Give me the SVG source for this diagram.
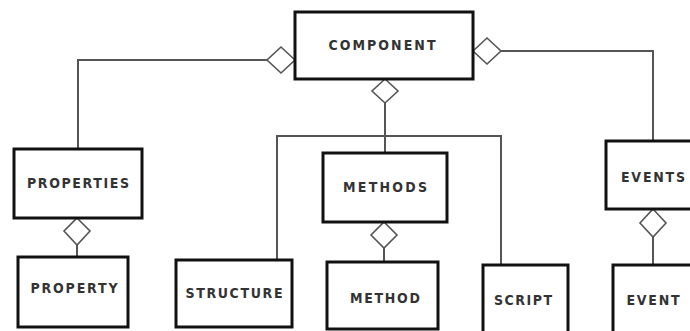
<svg xmlns="http://www.w3.org/2000/svg" width="690" height="331" viewBox="0 0 690 331">
  <style>
    .box { fill: #ffffff; stroke: #111111; stroke-width: 3; }
    .lbl { font-family: "DejaVu Sans Condensed", "DejaVu Sans", "Liberation Sans", sans-serif; font-stretch: condensed; font-weight: bold; font-size: 14px; fill: #333333; text-anchor: middle; dominant-baseline: central; }
    .wire { fill: none; stroke: #555555; stroke-width: 2; }
    .agg { fill: #ffffff; stroke: #555555; stroke-width: 1.6; stroke-linejoin: miter; }
  </style>
  <rect width="690" height="331" fill="#ffffff"/>

  <!-- connectors -->
  <g id="connectors">
    <polyline class="wire" points="267,60 78,60 78,149"/>
    <polyline class="wire" points="501,51 653,51 653,141"/>
    <line class="wire" x1="385" y1="103" x2="385" y2="153"/>
    <polyline class="wire" points="277,260 277,136 501,136 501,265"/>
    <line class="wire" x1="77" y1="245" x2="77" y2="257"/>
    <line class="wire" x1="384" y1="248" x2="384" y2="262"/>
    <line class="wire" x1="653" y1="237" x2="653" y2="265"/>
    <!-- aggregation diamonds -->
    <polygon class="agg" points="295,60 281,47 267,60 281,73"/>
    <polygon class="agg" points="473,51 487,38 501,51 487,64"/>
    <polygon class="agg" points="385,79 398,91 385,103 372,91"/>
    <polygon class="agg" points="77,218 90,231 77,245 64,231"/>
    <polygon class="agg" points="384,222 397,235 384,248 371,235"/>
    <polygon class="agg" points="653,209 666,223 653,237 640,223"/>
  </g>

  <g id="component">
    <rect class="box" x="295" y="12" width="178" height="67"/>
    <text class="lbl" x="382" y="45" textLength="107" lengthAdjust="spacing">COMPONENT</text>
  </g>
  <g id="properties">
    <rect class="box" x="14" y="149" width="128" height="69"/>
    <text class="lbl" x="78" y="183" textLength="102" lengthAdjust="spacing">PROPERTIES</text>
  </g>
  <g id="property">
    <rect class="box" x="18" y="257" width="110" height="70"/>
    <text class="lbl" x="74" y="288" textLength="87" lengthAdjust="spacing">PROPERTY</text>
  </g>
  <g id="structure">
    <rect class="box" x="176" y="260" width="116" height="67"/>
    <text class="lbl" x="234" y="293" textLength="97" lengthAdjust="spacing">STRUCTURE</text>
  </g>
  <g id="methods">
    <rect class="box" x="323" y="153" width="124" height="69"/>
    <text class="lbl" x="385" y="187" textLength="84" lengthAdjust="spacing">METHODS</text>
  </g>
  <g id="method">
    <rect class="box" x="327" y="262" width="111" height="67"/>
    <text class="lbl" x="385" y="298" textLength="70" lengthAdjust="spacing">METHOD</text>
  </g>
  <g id="script">
    <rect class="box" x="483" y="265" width="85" height="72"/>
    <text class="lbl" x="523" y="300" textLength="58" lengthAdjust="spacing">SCRIPT</text>
  </g>
  <g id="events">
    <rect class="box" x="606" y="141" width="96" height="68"/>
    <text class="lbl" x="653" y="177" textLength="64" lengthAdjust="spacing">EVENTS</text>
  </g>
  <g id="event">
    <rect class="box" x="613" y="265" width="90" height="72"/>
    <text class="lbl" x="653" y="300" textLength="53" lengthAdjust="spacing">EVENT</text>
  </g>
</svg>
